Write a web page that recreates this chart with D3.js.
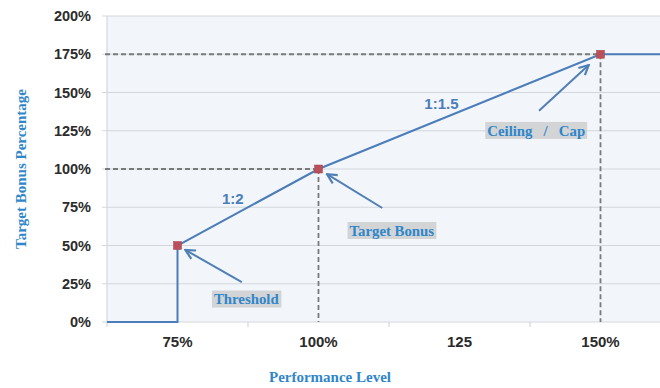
<!DOCTYPE html>
<html>
<head>
<meta charset="utf-8">
<script src="https://cdn.jsdelivr.net/npm/d3@7"></script>
<style>
  html, body { margin: 0; padding: 0; background: #ffffff; }
  svg { display: block; }
</style>
</head>
<body>
<svg id="chart" width="660" height="388"></svg>
<script>
// Bonus payout curve: performance level vs. target bonus percentage
const performance = [62.5, 75, 75, 100, 150, 162.5];
const bonus       = [0, 0, 50, 100, 175, 175];

// Key points on the curve (threshold, target, ceiling)
const keyPerformance = [75, 100, 150];
const keyBonus       = [50, 100, 175];
const keyNames       = ["Threshold", "Target Bonus", "Ceiling   /   Cap"];

// Where each callout label sits and where its arrow starts (data units)
const calloutPerf     = [87.2, 113.0, 138.6];
const calloutBonus    = [15.0, 59.8, 125.2];
const arrowStartPerf  = [86.4, 111.3, 139.1];
const arrowStartBonus = [26.1, 74.5, 138.1];
const arrowGap        = [9, 10, 16];

// Slope labels
const ratioText  = ["1:2", "1:1.5"];
const ratioPerf  = [84.8, 121.8];
const ratioBonus = [80.4, 142.5];

// Axis ticks
const yTicks = [0, 25, 50, 75, 100, 125, 150, 175, 200];
const xTickValues = [75, 100, 125, 150];
const xTickLabels = ["75%", "100%", "125", "150%"];
const xTickMarks = [62.5, 87.5, 112.5, 137.5];

const svg = d3.select("#chart");
const plotLeft = 107, plotTop = 16, plotBottom = 322, plotRight = 671;

const x = d3.scaleLinear().domain([62.5, 162.5]).range([plotLeft, plotRight]);
const y = d3.scaleLinear().domain([0, 200]).range([plotBottom, plotTop]);

const blueText = "#2f86c9";
const lineBlue = "#4a7dba";
const arrowBlue = "#4f7fb5";

// Plot background
svg.append("rect")
  .attr("x", plotLeft).attr("y", plotTop)
  .attr("width", plotRight - plotLeft).attr("height", plotBottom - plotTop)
  .attr("fill", "#f2f5f9");

// Horizontal gridlines with small outer ticks
svg.append("g").selectAll("line")
  .data(yTicks.filter(d => d > 0))
  .join("line")
  .attr("x1", plotLeft - 5).attr("x2", plotRight)
  .attr("y1", d => y(d)).attr("y2", d => y(d))
  .attr("stroke", "#d3d7dc").attr("stroke-width", 1.2);

// Left axis line
svg.append("line")
  .attr("x1", plotLeft).attr("x2", plotLeft)
  .attr("y1", plotTop).attr("y2", plotBottom)
  .attr("stroke", "#d3d7dc").attr("stroke-width", 1.2);

// Bottom axis line and category tick marks
svg.append("line")
  .attr("x1", plotLeft - 5).attr("x2", plotRight)
  .attr("y1", plotBottom).attr("y2", plotBottom)
  .attr("stroke", "#d3d7dc").attr("stroke-width", 1.2);
svg.append("g").selectAll("line")
  .data(xTickMarks)
  .join("line")
  .attr("x1", d => x(d)).attr("x2", d => x(d))
  .attr("y1", plotBottom).attr("y2", plotBottom + 5)
  .attr("stroke", "#d3d7dc").attr("stroke-width", 1.2);

// Y tick labels
svg.append("g").selectAll("text")
  .data(yTicks)
  .join("text")
  .attr("x", 91).attr("y", d => y(d))
  .attr("dy", "0.36em")
  .attr("text-anchor", "end")
  .attr("font-family", "Liberation Sans, Arial, sans-serif")
  .attr("font-weight", "bold")
  .attr("font-size", 14.5)
  .attr("fill", "#2b2b2b")
  .text(d => d + "%");

// X tick labels
svg.append("g").selectAll("text")
  .data(xTickValues)
  .join("text")
  .attr("x", d => x(d)).attr("y", 342)
  .attr("dy", "0.36em")
  .attr("text-anchor", "middle")
  .attr("font-family", "Liberation Sans, Arial, sans-serif")
  .attr("font-weight", "bold")
  .attr("font-size", 15)
  .attr("fill", "#2b2b2b")
  .text((d, i) => xTickLabels[i]);

// Dashed guide lines from the target and ceiling points to both axes
const guides = svg.append("g")
  .attr("stroke", "#7a7a7a").attr("stroke-width", 1.8)
  .attr("stroke-dasharray", "5,3").attr("fill", "none");
keyPerformance.forEach((p, i) => {
  if (i === 0) return;
  guides.append("line")
    .attr("x1", plotLeft - 2).attr("x2", x(p))
    .attr("y1", y(keyBonus[i])).attr("y2", y(keyBonus[i]));
  guides.append("line")
    .attr("x1", x(p)).attr("x2", x(p))
    .attr("y1", y(keyBonus[i])).attr("y2", plotBottom);
});

// Payout curve
const pts = performance.map((p, i) => [p, bonus[i]]);
svg.append("path")
  .datum(pts)
  .attr("fill", "none")
  .attr("stroke", lineBlue)
  .attr("stroke-width", 2)
  .attr("d", d3.line().x(d => x(d[0])).y(d => y(d[1])));

// Key point markers
svg.append("g").selectAll("rect")
  .data(keyPerformance)
  .join("rect")
  .attr("x", d => x(d) - 4)
  .attr("y", (d, i) => y(keyBonus[i]) - 4)
  .attr("width", 8).attr("height", 8)
  .attr("fill", "#b84f5a")
  .attr("stroke", "#a9444f").attr("stroke-width", 0.5);

// Slope labels
svg.append("g").selectAll("text")
  .data(ratioText)
  .join("text")
  .attr("x", (d, i) => x(ratioPerf[i]))
  .attr("y", (d, i) => y(ratioBonus[i]))
  .attr("dy", "0.36em")
  .attr("text-anchor", "middle")
  .attr("font-family", "Liberation Sans, Arial, sans-serif")
  .attr("font-weight", "bold")
  .attr("font-size", 15)
  .attr("fill", lineBlue)
  .text(d => d);

// Arrowhead
svg.append("defs").append("marker")
  .attr("id", "arrow")
  .attr("viewBox", "0 0 10 10")
  .attr("refX", 9).attr("refY", 5)
  .attr("markerWidth", 6).attr("markerHeight", 6)
  .attr("orient", "auto")
  .append("path")
  .attr("d", "M1,1 L9,5 L1,9")
  .attr("fill", "none")
  .attr("stroke", arrowBlue)
  .attr("stroke-width", 1.8);

// Callout arrows, stopping just short of each key point
keyPerformance.forEach((p, i) => {
  const x0 = x(arrowStartPerf[i]), y0 = y(arrowStartBonus[i]);
  const x1 = x(p), y1 = y(keyBonus[i]);
  const len = Math.hypot(x1 - x0, y1 - y0);
  const gap = arrowGap[i];
  svg.append("line")
    .attr("x1", x0).attr("y1", y0)
    .attr("x2", x1 - (x1 - x0) / len * gap)
    .attr("y2", y1 - (y1 - y0) / len * gap)
    .attr("stroke", arrowBlue).attr("stroke-width", 2)
    .attr("marker-end", "url(#arrow)");
});

// Callout labels with grey backgrounds
keyNames.forEach((name, i) => {
  const g = svg.append("g");
  const t = g.append("text")
    .attr("x", x(calloutPerf[i])).attr("y", y(calloutBonus[i]))
    .attr("dy", "0.35em")
    .attr("text-anchor", "middle")
    .attr("font-family", "Liberation Serif, Times New Roman, serif")
    .attr("font-weight", "bold")
    .attr("font-size", 14.8)
    .attr("fill", blueText)
    .style("white-space", "pre")
    .text(name);
  const b = t.node().getBBox();
  g.insert("rect", "text")
    .attr("x", b.x - 2).attr("y", y(calloutBonus[i]) - 8.5)
    .attr("width", b.width + 4).attr("height", 17)
    .attr("fill", "#d2d4d6");
});

// Axis titles
svg.append("text")
  .attr("transform", `translate(21,${(plotTop + plotBottom) / 2 + 0}) rotate(-90)`)
  .attr("text-anchor", "middle")
  .attr("dy", "0.35em")
  .attr("font-family", "Liberation Serif, Times New Roman, serif")
  .attr("font-weight", "bold")
  .attr("font-size", 15)
  .attr("fill", blueText)
  .text("Target Bonus Percentage");

svg.append("text")
  .attr("x", 330).attr("y", 377)
  .attr("dy", "0.35em")
  .attr("text-anchor", "middle")
  .attr("font-family", "Liberation Serif, Times New Roman, serif")
  .attr("font-weight", "bold")
  .attr("font-size", 15)
  .attr("fill", blueText)
  .text("Performance Level");
</script>
</body>
</html>
